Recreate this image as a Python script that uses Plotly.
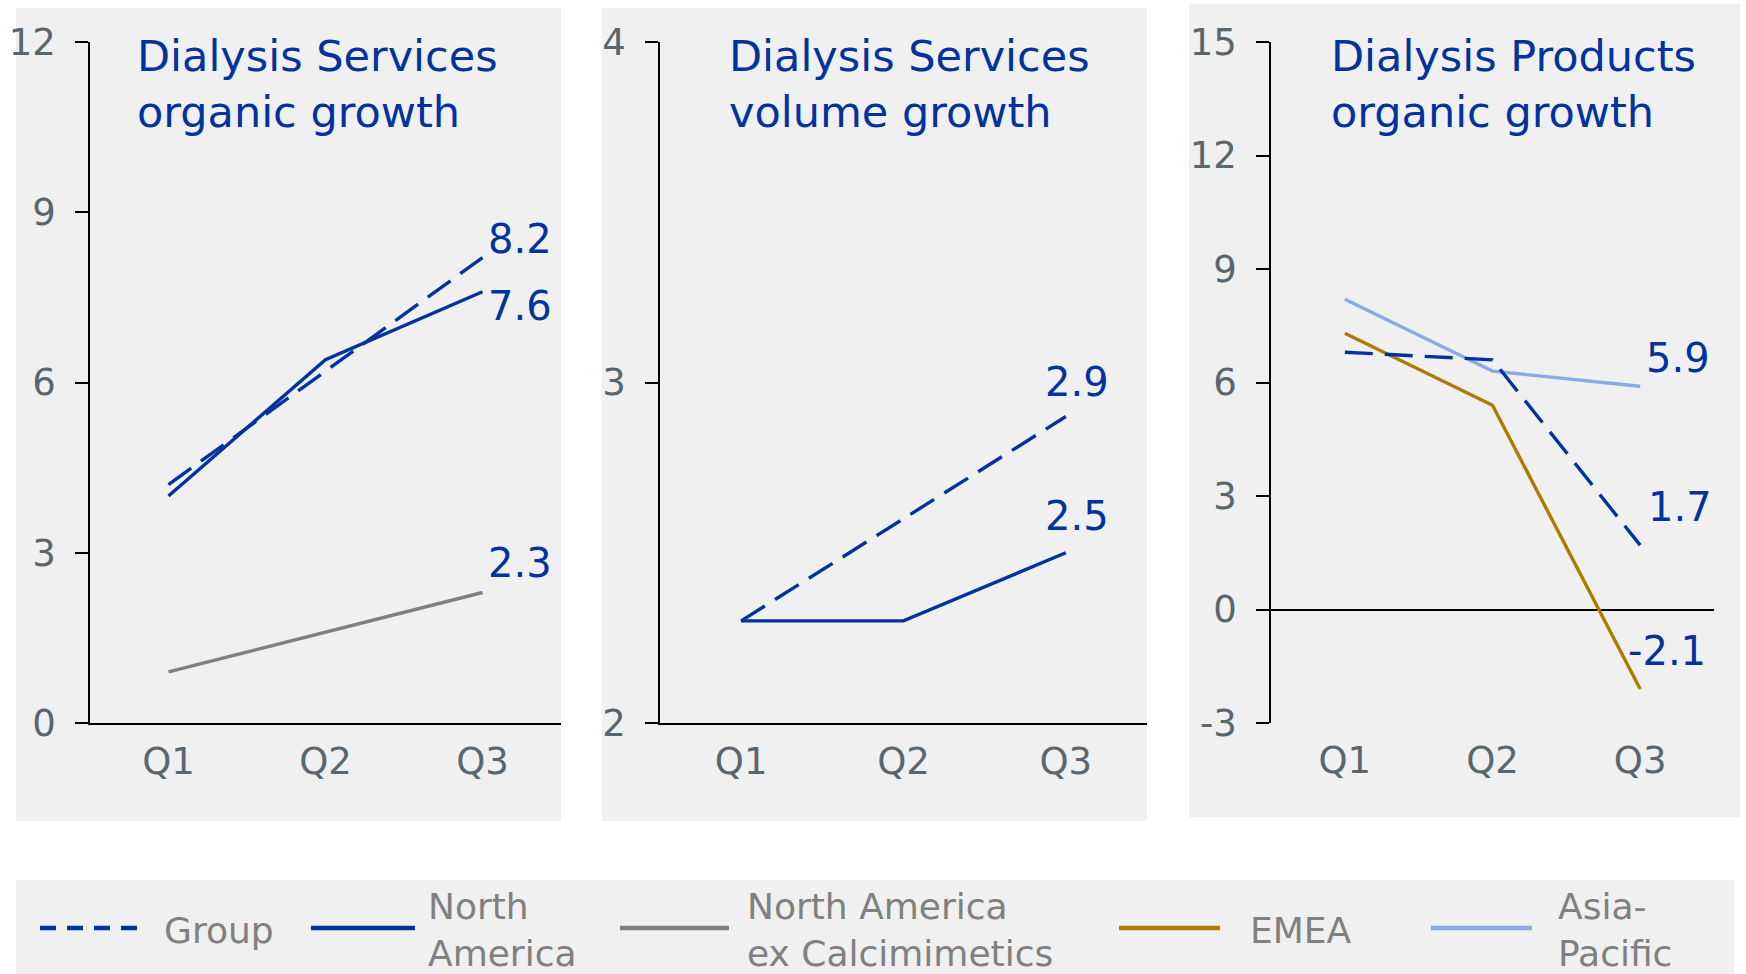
import plotly.graph_objects as go

W, H = 1746, 974

quarters = ["Q1", "Q2", "Q3"]

# Panel 1: Dialysis Services organic growth
p1_group = [4.2, 6.2, 8.2]
p1_north_america = [4.0, 6.4, 7.6]
p1_na_ex_calci = [0.9, 1.6, 2.3]

# Panel 2: Dialysis Services volume growth
p2_group = [2.3, 2.6, 2.9]
p2_north_america = [2.3, 2.3, 2.5]

# Panel 3: Dialysis Products organic growth
p3_group = [6.8, 6.6, 1.7]
p3_emea = [7.3, 5.4, -2.1]
p3_asia_pacific = [8.2, 6.3, 5.9]

titles = ["Dialysis Services<br>organic growth",
          "Dialysis Services<br>volume growth",
          "Dialysis Products<br>organic growth"]

y_ticks_1 = [0, 3, 6, 9, 12]
y_ticks_2 = [2, 3, 4]
y_ticks_3 = [-3, 0, 3, 6, 9, 12, 15]

legend_names = ["Group", "North<br>America", "North America<br>ex Calcimimetics",
                "EMEA", "Asia-<br>Pacific"]

# ---- styles ----
DARK = "#0033A0"
GREY = "#808080"
GOLD = "#B07A00"
LIGHT = "#8AA8EA"
BG = "#F0F0F0"
TICKC = "#5A666E"
FONT = "DejaVu Sans"
DASH = "28px,12px"


def fx(px):
    return px / W


def fy(py):
    return 1 - py / H


fig = go.Figure()

def add_line(xa, ya, y, color, dash=None, name=None):
    fig.add_trace(go.Scatter(
        x=quarters, y=y, mode="lines", name=name, showlegend=False,
        xaxis=xa, yaxis=ya, hoverinfo="skip",
        line=dict(color=color, width=3.4, dash=dash or "solid"),
    ))

add_line("x", "y", p1_na_ex_calci, GREY, name="North America ex Calcimimetics")
add_line("x", "y", p1_north_america, DARK, name="North America")
add_line("x", "y", p1_group, DARK, DASH, name="Group")

add_line("x2", "y2", p2_north_america, DARK, name="North America")
add_line("x2", "y2", p2_group, DARK, DASH, name="Group")

add_line("x3", "y3", p3_asia_pacific, LIGHT, name="Asia-Pacific")
add_line("x3", "y3", p3_emea, GOLD, name="EMEA")
add_line("x3", "y3", p3_group, DARK, DASH, name="Group")

# plot areas (pixels)
ytop, ybot = 42, 723
panels = [
    dict(ax=90, right=561, bg=(16, 8, 561, 821), title_x=135, xstand=5),
    dict(ax=660, right=1147, bg=(602, 8, 1147, 821), title_x=727, xstand=5),
    dict(ax=1271, right=1714, bg=(1189, 4, 1740, 817), title_x=1329, xstand=12),
]
yranges = [[0, 12], [2, 4], [-3, 15]]
yticks = [y_ticks_1, y_ticks_2, y_ticks_3]

shapes = []
annotations = []

for i, p in enumerate(panels):
    sfx = "" if i == 0 else str(i + 1)
    bx0, by0, bx1, by1 = p["bg"]
    shapes.append(dict(type="rect", xref="paper", yref="paper", layer="below",
                       x0=fx(bx0), x1=fx(bx1), y0=fy(by1), y1=fy(by0),
                       fillcolor=BG, line=dict(width=0)))
    fig.layout["xaxis" + sfx] = dict(
        domain=[fx(p["ax"]), fx(p["right"])], anchor="y" + sfx,
        type="category", categoryorder="array", categoryarray=quarters,
        range=[-0.5, 2.5], showgrid=False, zeroline=False, automargin=False,
        showline=(i != 2), linecolor="black", linewidth=1.5,
        ticks="", ticklabelstandoff=p["xstand"],
        tickfont=dict(family=FONT, size=37, color=TICKC),
    )
    fig.layout["yaxis" + sfx] = dict(
        domain=[fy(ybot), fy(ytop)], anchor="x" + sfx,
        range=yranges[i], tickvals=yticks[i], automargin=False,
        ticktext=[str(v) for v in yticks[i]],
        showgrid=False, zeroline=(i == 2), zerolinecolor="black", zerolinewidth=1.5,
        showline=True, linecolor="black", linewidth=1.5,
        ticks="outside", ticklen=13, tickcolor="black", tickwidth=1.5,
        ticklabelstandoff=12,
        tickfont=dict(family=FONT, size=37, color=TICKC),
    )
    annotations.append(dict(
        xref="paper", yref="paper", x=fx(p["title_x"]), y=fy(84),
        xanchor="left", yanchor="middle", align="left", showarrow=False,
        text=titles[i], font=dict(family=FONT, size=43, color=DARK),
    ))

# end-of-line value labels (data values; offsets are styling)
end_labels = [
    ("x", "y", p1_group[-1], 3, 19),
    ("x", "y", p1_north_america[-1], 3, -14),
    ("x", "y", p1_na_ex_calci[-1], 3, 29),
    ("x2", "y2", p2_group[-1], -23, 35),
    ("x2", "y2", p2_north_america[-1], -23, 37),
    ("x3", "y3", p3_asia_pacific[-1], 4, 28),
    ("x3", "y3", p3_group[-1], 6, 38),
    ("x3", "y3", p3_emea[-1], -14, 38),
]
for xa, ya, v, xs, ys in end_labels:
    annotations.append(dict(
        xref=xa, yref=ya, x=quarters[-1], y=v, xanchor="left", yanchor="middle",
        xshift=xs, yshift=ys, showarrow=False, text=f"{v:.1f}",
        font=dict(family=FONT, size=40, color=DARK),
    ))

# legend (custom, full-width band)
shapes.append(dict(type="rect", xref="paper", yref="paper", layer="below",
                   x0=fx(16), x1=fx(1734), y0=0, y1=fy(880),
                   fillcolor=BG, line=dict(width=0)))
legend_items = [
    (legend_names[0], DARK, "16px,11px", 40, 145, 162),
    (legend_names[1], DARK, "solid", 311, 415, 426),
    (legend_names[2], GREY, "solid", 620, 729, 745),
    (legend_names[3], GOLD, "solid", 1119, 1220, 1248),
    (legend_names[4], LIGHT, "solid", 1431, 1532, 1556),
]
ly = 928
for name, col, dash, x0, x1, tx in legend_items:
    shapes.append(dict(type="line", xref="paper", yref="paper",
                       x0=fx(x0), x1=fx(x1), y0=fy(ly), y1=fy(ly),
                       line=dict(color=col, width=4.5, dash=dash)))
    annotations.append(dict(
        xref="paper", yref="paper", x=fx(tx), y=fy(930),
        xanchor="left", yanchor="middle", align="left", showarrow=False,
        text=name, font=dict(family=FONT, size=36, color=GREY),
    ))

fig.update_layout(
    width=W, height=H, margin=dict(l=0, r=0, t=0, b=0, autoexpand=False),
    paper_bgcolor="white", plot_bgcolor="rgba(0,0,0,0)",
    showlegend=False, shapes=shapes, annotations=annotations,
    font=dict(family=FONT),
)

fig.write_html("out.html", config={"displayModeBar": False},
               post_script="document.body.style.margin='0';document.body.style.overflow='hidden';")
